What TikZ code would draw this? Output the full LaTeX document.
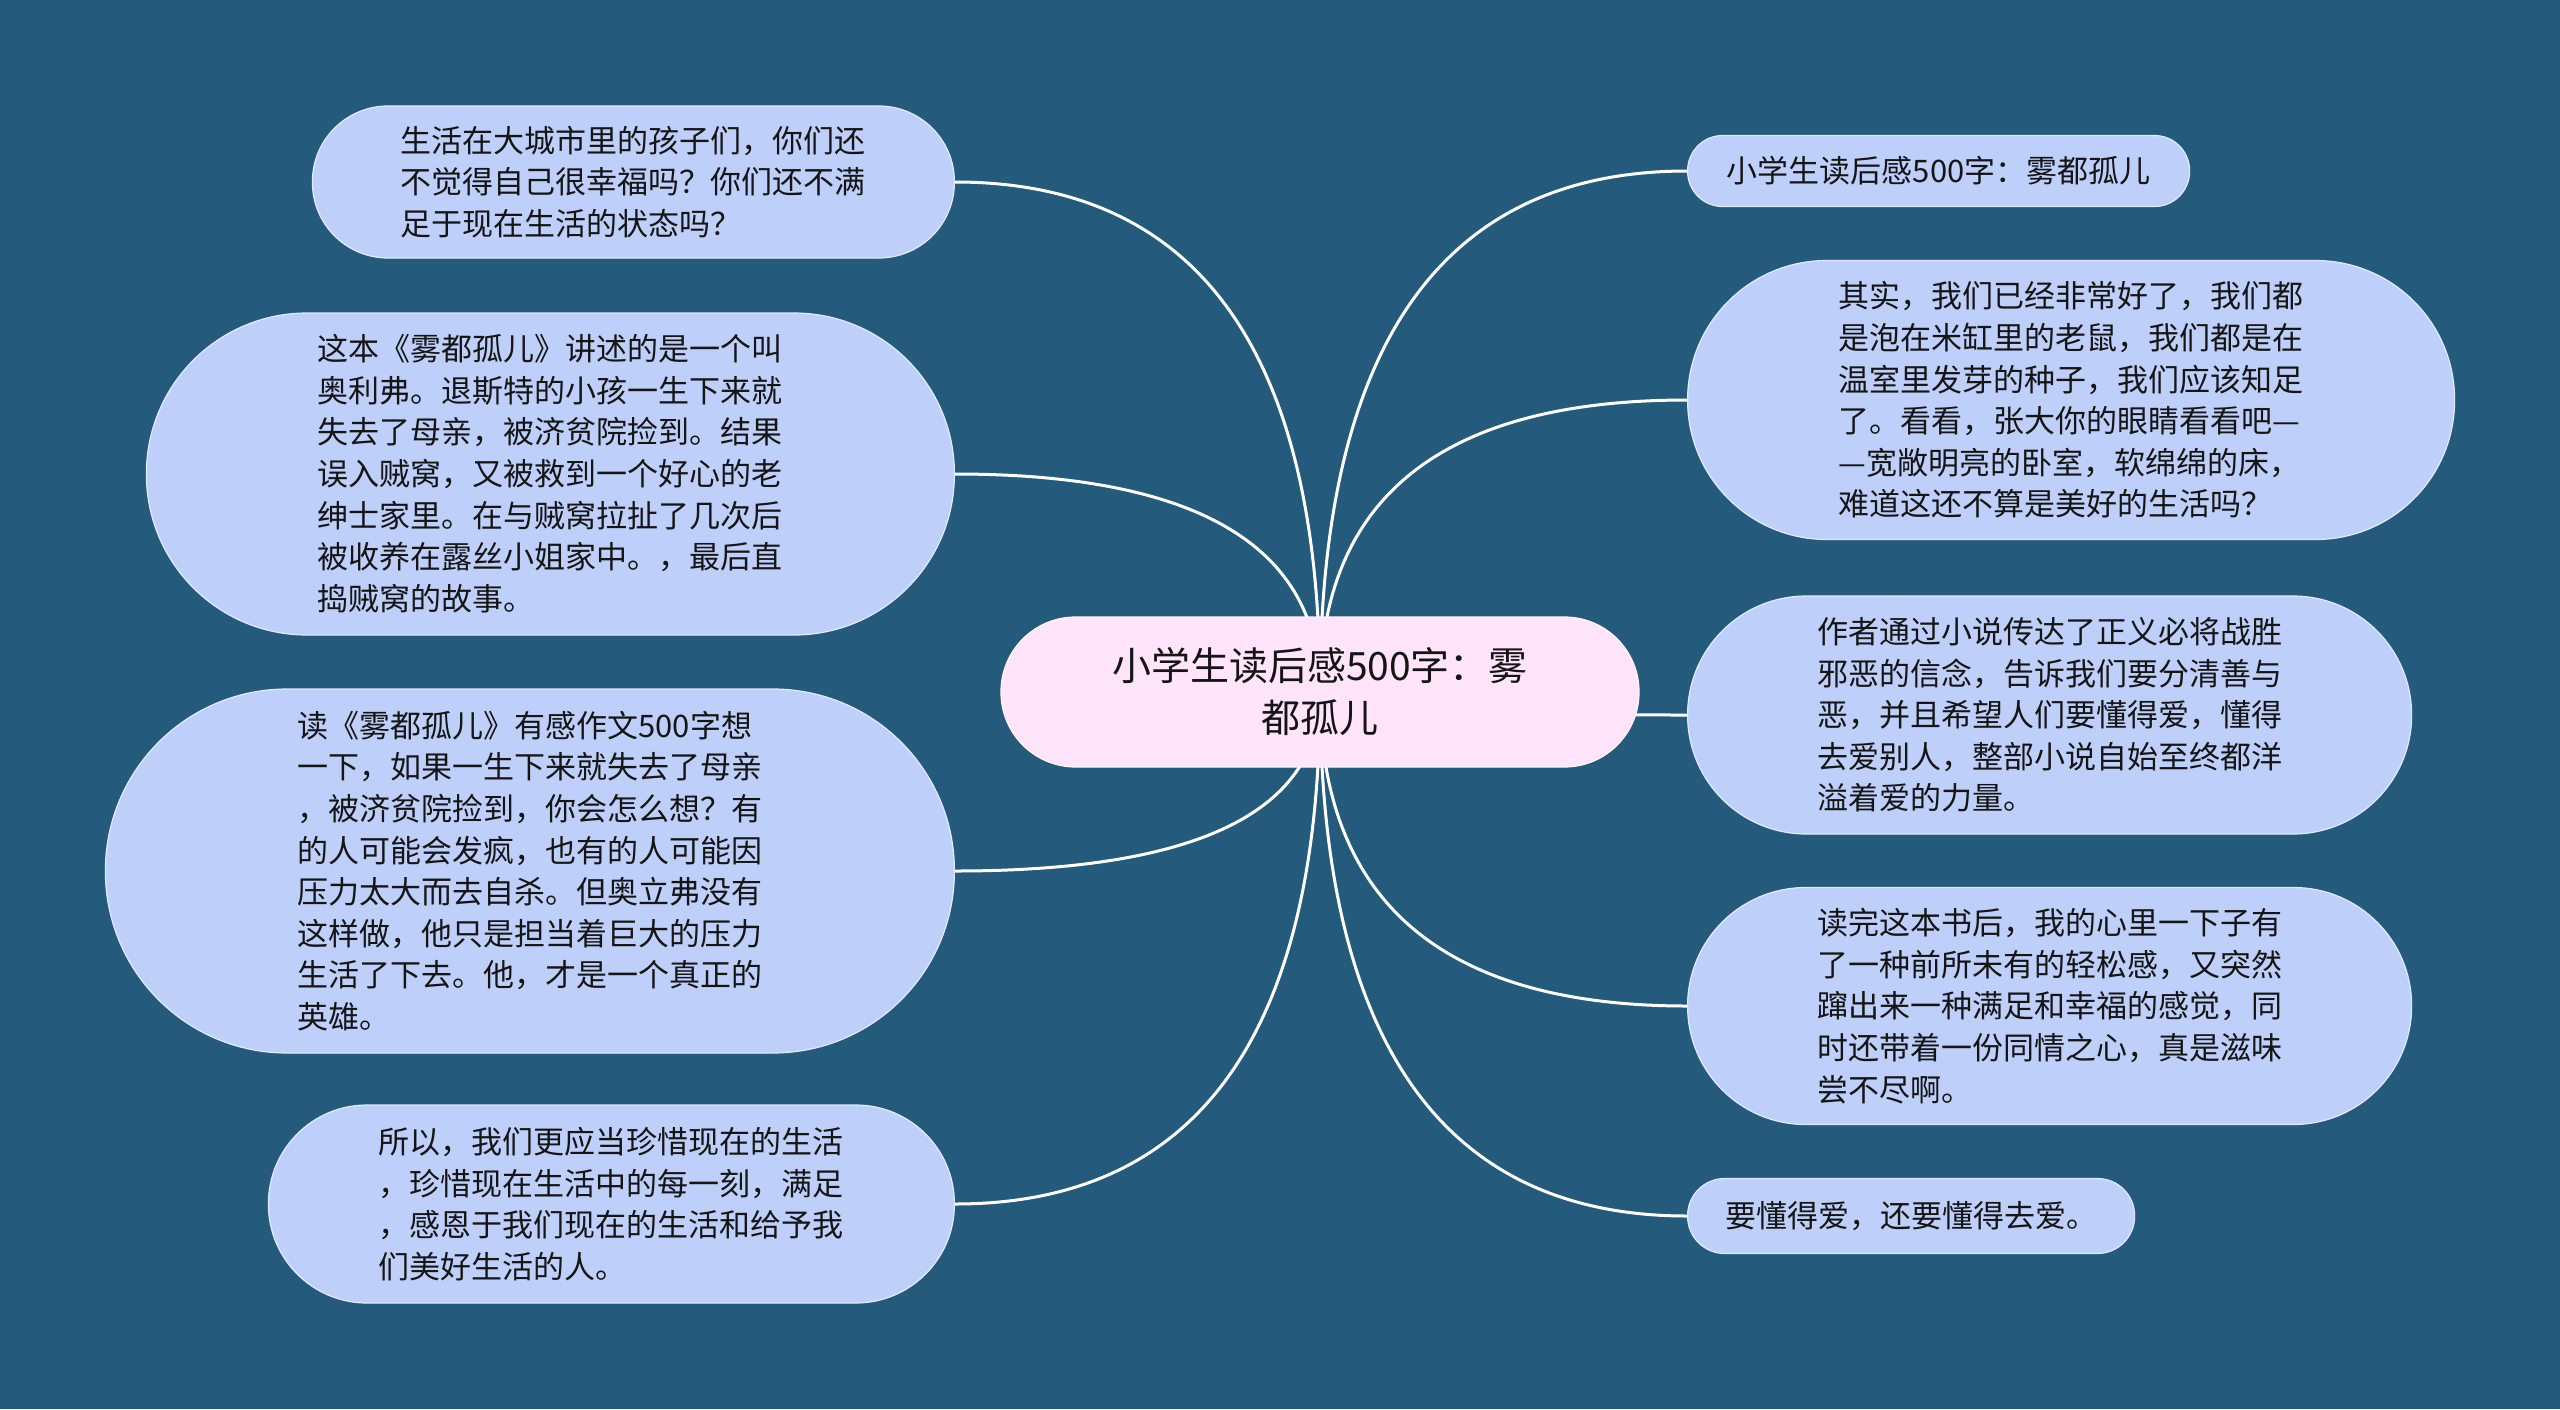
\documentclass[tikz,border=0pt]{standalone}
\usepackage{fontspec}
\newfontfamily\cjk{Noto Sans CJK SC}
\usetikzlibrary{backgrounds,calc}
\definecolor{bgc}{HTML}{245A7C}
\definecolor{leaf}{HTML}{BED0FA}
\definecolor{rootc}{HTML}{FFE4FA}
\definecolor{txt}{HTML}{151515}
\tikzset{
  box/.style 2 args={draw=white!55!leaf, line width=0.6pt, fill=leaf, text=txt, inner sep=0pt,
    minimum width=#1*0.5pt, minimum height=#2*0.5pt, rounded corners=#2*0.25pt-0.2pt,
    align=left, font=\cjk\fontsize{15.5pt}{20.8pt}\selectfont},
  rootbox/.style={draw=white!55!rootc, line width=0.6pt, fill=rootc, text=txt, inner sep=0pt,
    minimum width=319pt, minimum height=75pt, rounded corners=37.3pt,
    align=center, font=\cjk\fontsize{19.5pt}{26pt}\selectfont},
  link/.style={draw=white, line width=1.5pt}
}
\begin{document}
\begin{tikzpicture}[x=0.5pt,y=-0.5pt]
\useasboundingbox (0,0) rectangle (2560,1409);
\node[rootbox] (C) at (1320,692) {小学生读后感500字：雾\\都孤儿};
% left
\node[box={642}{152}, anchor=east] (L1) at (955,182) {生活在大城市里的孩子们，你们还\\不觉得自己很幸福吗？你们还不满\\足于现在生活的状态吗？};
\node[box={808}{322}, anchor=east] (L2) at (955,474) {这本《雾都孤儿》讲述的是一个叫\\奥利弗。退斯特的小孩一生下来就\\失去了母亲，被济贫院捡到。结果\\误入贼窝，又被救到一个好心的老\\绅士家里。在与贼窝拉扯了几次后\\被收养在露丝小姐家中。，最后直\\捣贼窝的故事。};
\node[box={849}{364}, anchor=east] (L3) at (955,871) {读《雾都孤儿》有感作文500字想\\一下，如果一生下来就失去了母亲\\，被济贫院捡到，你会怎么想？有\\的人可能会发疯，也有的人可能因\\压力太大而去自杀。但奥立弗没有\\这样做，他只是担当着巨大的压力\\生活了下去。他，才是一个真正的\\英雄。};
\node[box={686}{198}, anchor=east] (L4) at (955,1204) {所以，我们更应当珍惜现在的生活\\，珍惜现在生活中的每一刻，满足\\，感恩于我们现在的生活和给予我\\们美好生活的人。};
% right
\node[box={502}{71}, anchor=west] (R1) at (1687,171) {小学生读后感500字：雾都孤儿};
\node[box={767}{279}, anchor=west] (R2) at (1687,400) {其实，我们已经非常好了，我们都\\是泡在米缸里的老鼠，我们都是在\\温室里发芽的种子，我们应该知足\\了。看看，张大你的眼睛看看吧—\\—宽敞明亮的卧室，软绵绵的床，\\难道这还不算是美好的生活吗？};
\node[box={724}{238}, anchor=west] (R3) at (1687,715) {作者通过小说传达了正义必将战胜\\邪恶的信念，告诉我们要分清善与\\恶，并且希望人们要懂得爱，懂得\\去爱别人，整部小说自始至终都洋\\溢着爱的力量。};
\node[box={724}{237}, anchor=west] (R4) at (1687,1006) {读完这本书后，我的心里一下子有\\了一种前所未有的轻松感，又突然\\蹿出来一种满足和幸福的感觉，同\\时还带着一份同情之心，真是滋味\\尝不尽啊。};
\node[box={447}{75}, anchor=west] (R5) at (1687,1216) {要懂得爱，还要懂得去爱。};
\begin{scope}[on background layer]
\fill[bgc] (0,0) rectangle (2560,1409);
\foreach \n in {L1,L2,L3,L4} {
  \coordinate (k) at (C.center |- \n.east);
  \draw[link] (C.center) .. controls ($(C.center)!0.6667!(k)$) and ($(\n.east)!0.6667!(k)$) .. (\n.east);
}
\foreach \n in {R1,R2,R3,R4,R5} {
  \coordinate (k) at (C.center |- \n.west);
  \draw[link] (C.center) .. controls ($(C.center)!0.6667!(k)$) and ($(\n.west)!0.6667!(k)$) .. (\n.west);
}
\end{scope}
\end{tikzpicture}
\end{document}
